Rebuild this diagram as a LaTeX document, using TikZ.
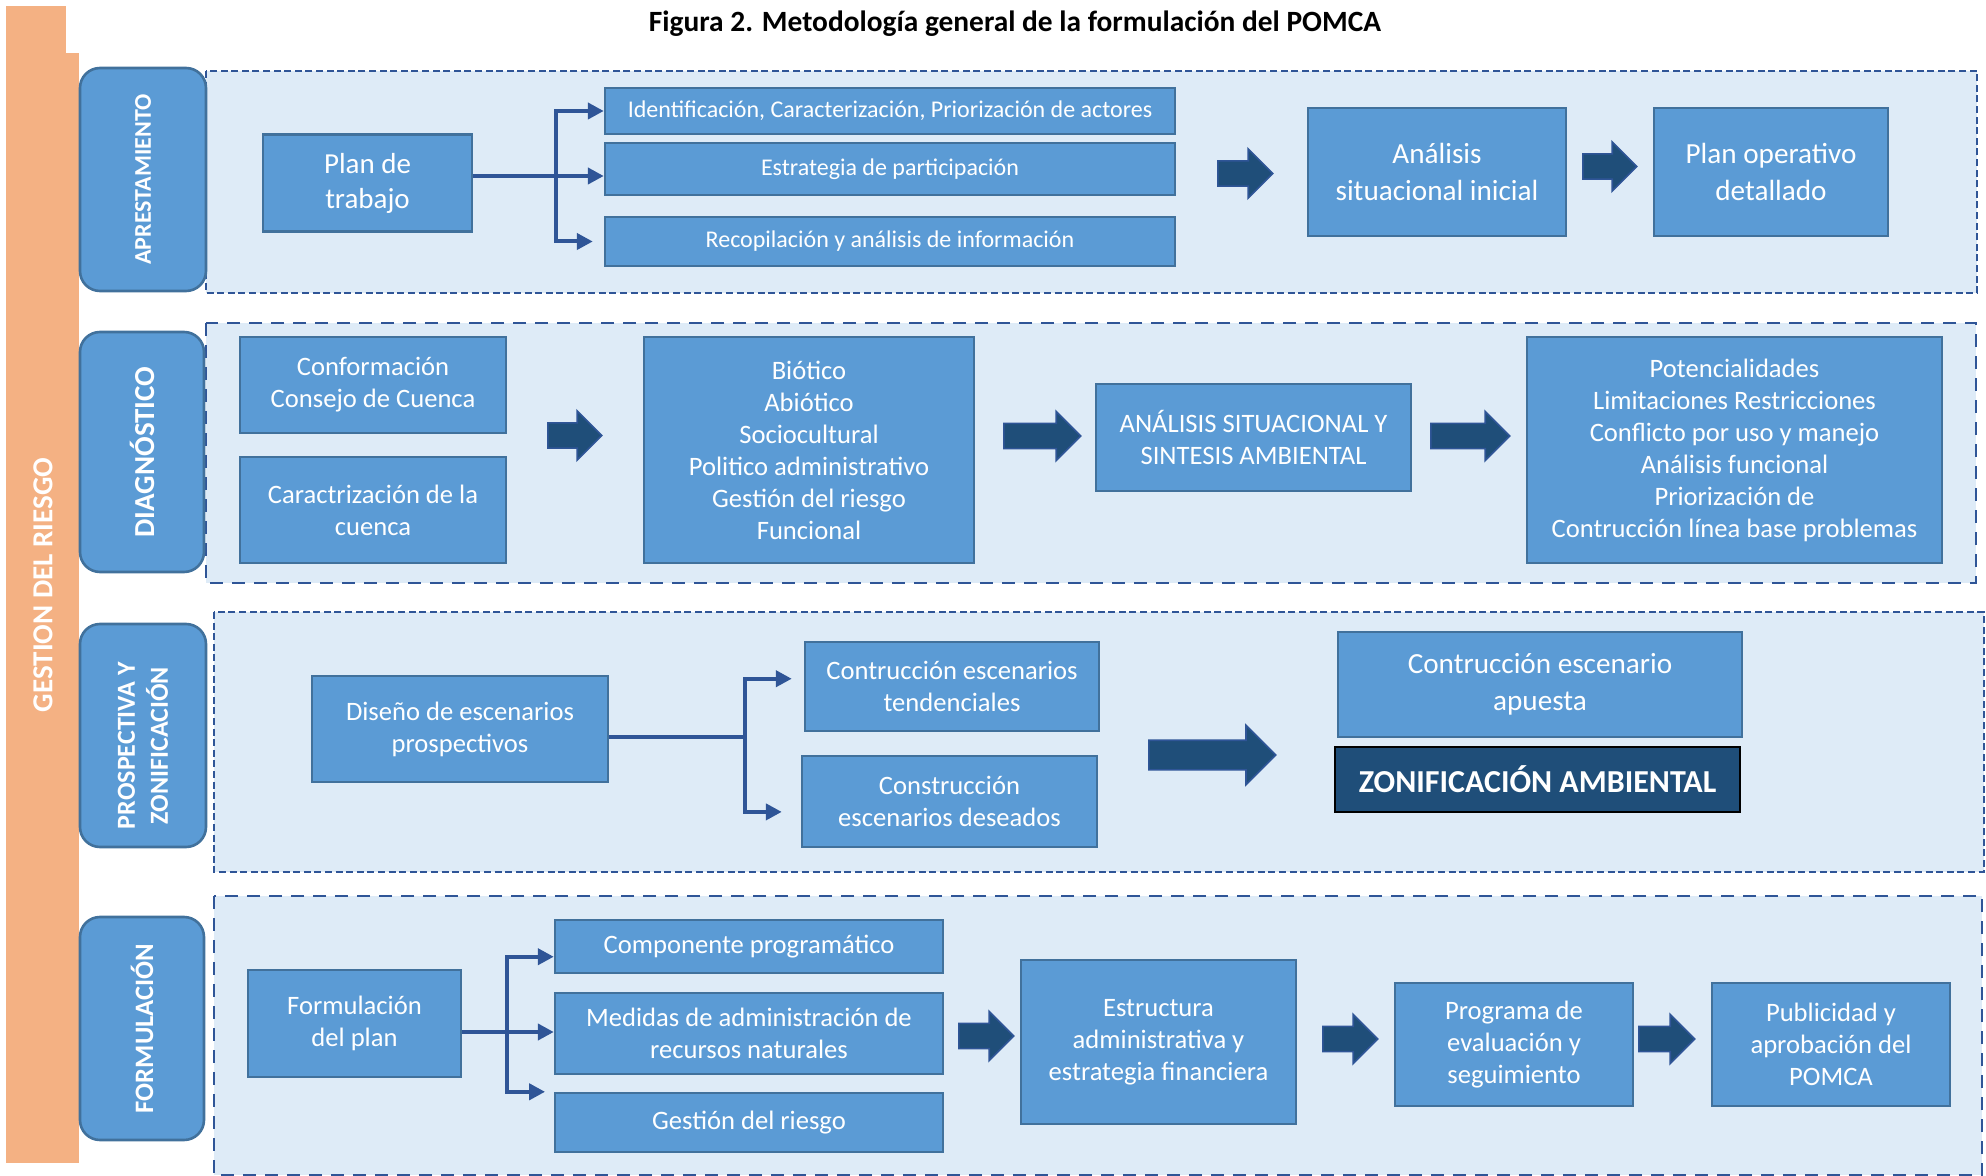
\documentclass[tikz,border=0pt]{standalone}
\usepackage{fontspec}
\setmainfont{Carlito}
\usetikzlibrary{shapes.arrows,arrows.meta}

\definecolor{cajaazul}{HTML}{5B9BD5}
\definecolor{bordeazul}{HTML}{41719C}
\definecolor{fondopanel}{HTML}{DEEBF7}
\definecolor{lineapanel}{HTML}{2F5597}
\definecolor{flechaazul}{HTML}{1F4E79}
\definecolor{naranja}{HTML}{F4B183}

\tikzset{
  dim/.style 2 args={minimum width=#1*0.5pt, minimum height=#2*0.5pt},
  largo/.style={minimum height=#1*0.5pt},
  caja/.style={draw=bordeazul, line width=1.2pt, fill=cajaazul, text=white,
    align=center, inner sep=0pt, font=\fontsize{13.3}{16}\selectfont},
  cajachica/.style={caja, font=\fontsize{12}{14}\selectfont},
  cajagrande/.style={caja, font=\fontsize{14.6}{18.5}\selectfont},
  etapa/.style={draw=bordeazul, line width=1.3pt, fill=cajaazul, rounded corners=10pt,
    text=white, align=center, inner sep=0pt, rotate=90},
  panelfino/.style={draw=lineapanel, fill=fondopanel, line width=1pt, dash pattern=on 3.5pt off 1.8pt},
  panelgrueso/.style={draw=lineapanel, fill=fondopanel, line width=1.3pt, dash pattern=on 6.5pt off 4.5pt},
  flecha/.style={single arrow, draw=lineapanel, fill=flechaazul, line width=0.8pt,
    inner xsep=0pt, inner ysep=5.9pt, single arrow head extend=6pt, anchor=tail},
  linea/.style={draw=lineapanel, line width=2pt},
  enlace/.style={linea, -{Triangle[length=8pt,width=8pt]}}
}

\begin{document}
\begin{tikzpicture}[x=0.5pt,y=-0.5pt]
\useasboundingbox (0,0) rectangle (1986,1176);

\node[font=\bfseries\fontsize{14.7}{17}\selectfont] (titulo) at (1015,24)
  {Figura 2. Metodología general de la formulación del POMCA};

% barra lateral
\fill[naranja] (6,6) rectangle (66,53);
\fill[naranja] (6,53) rectangle (79,1163);
\node[rotate=90, text=white, font=\bfseries\fontsize{14.5}{17}\selectfont] (gestion) at (43,585)
  {GESTION DEL RIESGO};

% paneles
\draw[panelfino] (206,71) rectangle (1977,293);
\draw[panelgrueso] (206,323) rectangle (1976,583);
\draw[panelfino] (214,612) rectangle (1984,872);
\draw[panelgrueso] (214,896) rectangle (1982,1175);

\node[etapa, dim={223}{126}, font=\bfseries\fontsize{12}{13}\selectfont] (lab1) at (143,179.5) {APRESTAMIENTO};
\node[etapa, dim={240}{124}, font=\bfseries\fontsize{14.5}{17}\selectfont] (lab2) at (142,452) {DIAGNÓSTICO};
\node[etapa, dim={223}{126}, font=\bfseries\fontsize{13}{16.5}\selectfont] (lab3) at (143,735.5)
  {PROSPECTIVA Y\rule{10pt}{0pt}\\ZONIFICACIÓN\rule{10pt}{0pt}};
\node[etapa, dim={223}{124}, font=\bfseries\fontsize{13.3}{16}\selectfont] (lab4) at (142,1028.5) {FORMULACIÓN};

% aprestamiento
\node[caja, dim={209}{97}, font=\fontsize{14.5}{17.5}\selectfont] (plan) at (367.5,183) {Plan de\\trabajo};
\node[cajachica, dim={570}{46}] (ident) at (890,111) {Identificación, Caracterización, Priorización de actores};
\node[cajachica, dim={570}{52}] (estr) at (890,169) {Estrategia de participación};
\node[cajachica, dim={570}{49}] (recop) at (890,241.5) {Recopilación y análisis de información};
\node[flecha, largo=55] (fl1) at (1217,173.5) {};
\node[cajagrande, dim={258}{128}] (anal) at (1437,172) {Análisis\\situacional inicial};
\node[flecha, largo=54] (fl2) at (1582,166.5) {};
\node[cajagrande, dim={234}{128}] (plop) at (1771,172) {Plan operativo\\detallado};

\coordinate (j1) at (556,176);
\draw[linea] (plan.east |- j1) -- (j1);
\draw[enlace] (j1) |- (ident.west);
\draw[enlace] (j1) -- (j1 -| estr.west);
\draw[enlace, shorten >=5.5pt] (j1) |- (recop.west);

% diagnostico
\node[caja, dim={266}{96}] (conf) at (373,385) {Conformación\\Consejo de Cuenca};
\node[caja, dim={266}{106}] (carac) at (373,510) {Caractrización de la\\cuenca};
\node[flecha, largo=54] (fl3) at (547,435.5) {};
\node[caja, dim={330}{226}] (bio) at (809,450)
  {Biótico\\Abiótico\\Sociocultural\\Politico administrativo\\Gestión del riesgo\\Funcional};
\node[flecha, largo=77] (fl4) at (1003,436) {};
\node[caja, dim={315}{107}] (asit) at (1253.5,437.5) {ANÁLISIS SITUACIONAL Y\\SINTESIS AMBIENTAL};
\node[flecha, largo=79] (fl5) at (1430,436) {};
\node[caja, dim={415}{226}] (pot) at (1734.5,450)
  {Potencialidades\\Limitaciones Restricciones\\Conflicto por uso y manejo\\Análisis funcional\\Priorización de\\Contrucción línea base problemas};

% prospectiva
\node[caja, dim={296}{106}] (dis) at (460,729) {Diseño de escenarios\\prospectivos};
\node[caja, dim={294}{89}] (tend) at (952,686.5) {Contrucción escenarios\\tendenciales};
\node[caja, dim={295}{91}] (des) at (949.5,801.5) {Construcción\\escenarios deseados};
\node[flecha, largo=127, inner ysep=7pt, single arrow head extend=7.5pt] (fl6) at (1148,755) {};
\node[cajagrande, dim={404}{105}] (apu) at (1540,684.5) {Contrucción escenario\\apuesta};
\node[caja, dim={405}{65}, fill=flechaazul, draw=black, font=\bfseries\fontsize{16}{18}\selectfont] (zon) at (1537.5,779.5) {ZONIFICACIÓN AMBIENTAL};

\coordinate (j3) at (745,737);
\draw[linea] (dis.east |- j3) -- (j3);
\draw[enlace, shorten >=6pt] (j3) |- (tend.177);
\draw[enlace, shorten >=9.5pt] (j3) |- (des.184);

% formulacion
\node[caja, dim={213}{107}] (form) at (354.5,1023.5) {Formulación\\del plan};
\node[caja, dim={388}{53}] (comp) at (749,946.5) {Componente programático};
\node[caja, dim={388}{81}] (med) at (749,1033.5) {Medidas de administración de\\recursos naturales};
\node[caja, dim={388}{59}] (ges) at (749,1122.5) {Gestión del riesgo};
\node[flecha, largo=55] (fl7) at (958,1036) {};
\node[caja, dim={275}{164}] (est) at (1158.5,1042) {Estructura\\administrativa y\\estrategia financiera};
\node[flecha, largo=55] (fl8) at (1322,1039) {};
\node[caja, dim={238}{123}] (prog) at (1514,1044.5) {Programa de\\evaluación y\\seguimiento};
\node[flecha, largo=56] (fl9) at (1638,1039) {};
\node[caja, dim={238}{123}] (pub) at (1831,1044.5) {Publicidad y\\aprobación del\\POMCA};

\coordinate (j4) at (507,1032);
\draw[linea] (form.east |- j4) -- (j4);
\draw[enlace] (j4) |- (comp.183.7);
\draw[enlace] (j4) -- (j4 -| med.west);
\draw[enlace, shorten >=5pt] (j4) |- (ges.171.6);
\end{tikzpicture}
\end{document}
